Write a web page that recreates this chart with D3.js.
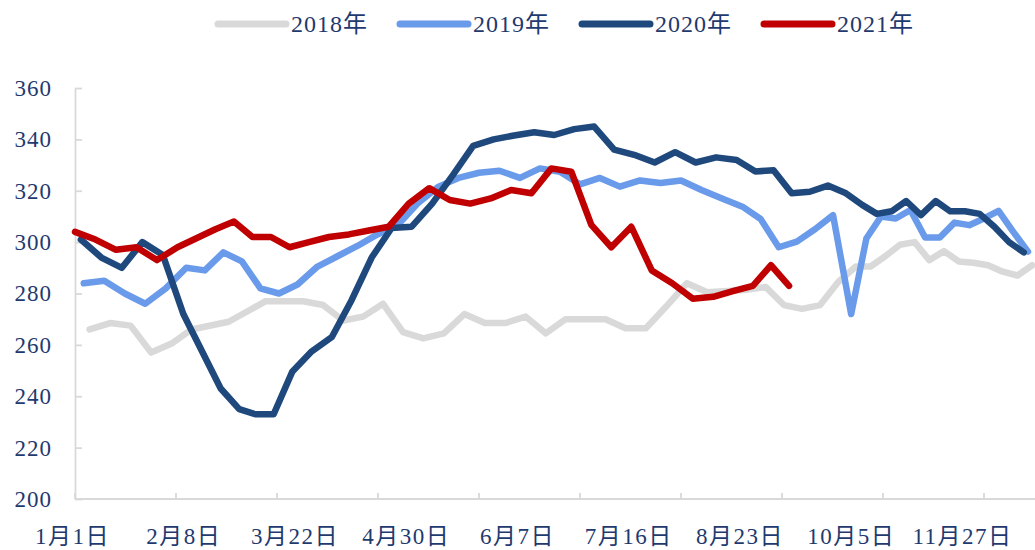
<!DOCTYPE html>
<html>
<head>
<meta charset="utf-8">
<script src="https://cdn.jsdelivr.net/npm/d3@7"></script>
<style>
body { margin: 0; background: #fff; }
svg text { font-family: "Liberation Serif", "Times New Roman", "Noto Sans CJK SC", serif; fill: #1f3a6e; }
</style>
</head>
<body>
<div id="chart"></div>
<script>
// weekly values, one array per year (null = no reading that week)
var years = ["2018年", "2019年", "2020年", "2021年"];
var startDates = ["2018-01-06", "2019-01-04", "2020-01-03", "2021-01-01"];

var v2018 = [266, 268.5, 267.5, 257, 260.5, 266, null, 269, 273, 277, 277, 277, 275.5, 269.5, 271, 276,
    265, 262.5, 264.5, 272, 268.5, 268.5, 271, 264.5, 270, 270, 270, 266.5, 266.5, 275, 284, 280.5,
    281, 281.5, 282.5, 275.5, 274, 275.5, 284.5, 290.5, 290.5, 294.5, 299, 300, 293, 296.5, 292.5,
    292, 291, 288.5, 287, 291];
var v2019 = [284, 285, 280, 276, 282, 290, 289, 296, 292.5, 282, 280, 283.5, 290.5, 294.5, 298.5, 303,
    306.5, 315, 321.5, 325, 327, 327.8, 325, 328.7, 327.4, 322.5, 325, 321.6, 324, 323, 324, 320.3,
    317, 313.8, 309, 298, 300.2, 305, 310.5, 272, 301.4, 310, 309.2, 312.5, 301.8, 301.8, 307.6,
    306.6, 309.2, 312.2, 304, 296.3];
var v2020 = [301, 294, 290, 300, 295, 272, null, 243, 235, 233, 233, 249.5, 257.5, 263, 277.5, 294,
    305.5, 306, 315, 326, 337.5, 340, 341.5, 342.8, 341.7, 344, 345, 336, 334, 331, 335, 331,
    333, 332, 327.5, 328, 319, 319.6, 322, 319, 314.5, 311, 312, 316, 310.5, 316, 312, 312,
    311, 306, 300, 296];
var v2021 = [304, 301, 297, 298, 293, 298, null, 305, 308, 302, 302, 298, 300, 302, 303, 304.5,
    306, 315, 321, 316.4, 315, 317, 320.3, 319, 328.7, 327.4, 306.7, 298, 306, 289, 284, 278,
    278.7, 281, 283, 291, 283];

var xLabels = ["1月1日", "2月8日", "3月22日", "4月30日", "6月7日", "7月16日", "8月23日", "10月5日", "11月27日"];
var labelDates = ["01-01", "02-08", "03-22", "04-30", "06-07", "07-16", "08-23", "10-05", "11-27"];
var yTicks = [200, 220, 240, 260, 280, 300, 320, 340, 360];

var colors = ["#d9d9d9", "#6a9aea", "#1f497d", "#c00000"];
var allValues = [v2018, v2019, v2020, v2021];

var width = 1035, height = 550;
var plotLeft = 75, plotRight = 1035, plotTop = 88, plotBottom = 499;

var svg = d3.select("#chart").append("svg")
    .attr("width", width)
    .attr("height", height);

var parse = d3.timeParse("%Y-%m-%d");
// every year is laid on the same calendar (2021) by month and day
function onBaseYear(d) {
    return new Date(2021, d.getMonth(), d.getDate());
}

var labelDateObjs = labelDates.map(function(s) { return parse("2021-" + s); });
var x = d3.scaleTime()
    .domain(labelDateObjs)
    .range(labelDateObjs.map(function(d, i) { return plotLeft + i * 111.25; }));

var y = d3.scaleLinear()
    .domain([200, 360])
    .range([plotBottom, plotTop]);

var tickPos = d3.scaleLinear().domain([0, 9]).range([plotLeft, 984]);

svg.append("defs").append("clipPath").attr("id", "plot")
    .append("rect").attr("x", plotLeft - 10).attr("y", 0)
    .attr("width", plotRight - plotLeft + 10).attr("height", height);

// y axis
var yAxis = svg.append("g")
    .attr("transform", "translate(" + plotLeft + ",0)")
    .call(d3.axisLeft(y).tickValues(yTicks).tickSizeInner(-7).tickSizeOuter(0).tickPadding(23));
yAxis.select(".domain").attr("stroke", "#d9d9d9").attr("stroke-width", 1.8);
yAxis.selectAll(".tick line").attr("stroke", "#d9d9d9").attr("stroke-width", 1.8);
yAxis.selectAll(".tick text")
    .attr("fill", null)
    .style("font-size", "23px")
    .style("letter-spacing", "1px");
yAxis.attr("font-family", null).attr("font-size", null);

// x axis
var xAxis = svg.append("g");
xAxis.append("line")
    .attr("x1", plotLeft).attr("x2", plotRight)
    .attr("y1", plotBottom).attr("y2", plotBottom)
    .attr("stroke", "#d9d9d9").attr("stroke-width", 1.8);
xAxis.selectAll(".xtick")
    .data(d3.range(10))
    .enter()
    .append("line")
    .attr("x1", function(d) { return tickPos(d); })
    .attr("x2", function(d) { return tickPos(d); })
    .attr("y1", plotBottom).attr("y2", plotBottom - 6)
    .attr("stroke", "#d9d9d9").attr("stroke-width", 1.8);
xAxis.selectAll(".xlabel")
    .data(xLabels)
    .enter()
    .append("text")
    .attr("x", function(d, i) { return x(labelDateObjs[i]) - 2.5; })
    .attr("y", 544)
    .attr("text-anchor", "middle")
    .style("font-size", "23px")
    .style("letter-spacing", "1.5px")
    .text(function(d) { return d; });

// series
var line = d3.line()
    .x(function(d) { return x(d.date); })
    .y(function(d) { return y(d.value); });

var series = allValues.map(function(vals, k) {
    var start = parse(startDates[k]);
    var pts = vals.map(function(v, i) {
        return { date: onBaseYear(d3.timeDay.offset(start, 7 * i)), value: v };
    }).filter(function(d) { return d.value !== null; });
    return { name: years[k], color: colors[k], points: pts };
});

svg.append("g")
    .attr("clip-path", "url(#plot)")
    .selectAll("path")
    .data(series)
    .enter()
    .append("path")
    .attr("fill", "none")
    .attr("stroke", function(d) { return d.color; })
    .attr("stroke-width", 6.5)
    .attr("stroke-linejoin", "round")
    .attr("stroke-linecap", "round")
    .attr("d", function(d) { return line(d.points); });

// legend
var legend = svg.append("g")
    .selectAll("g")
    .data(series)
    .enter()
    .append("g")
    .attr("transform", function(d, i) { return "translate(" + (218 + i * 182) + ",24)"; });
legend.append("line")
    .attr("x1", 0).attr("x2", 68)
    .attr("stroke", function(d) { return d.color; })
    .attr("stroke-width", 7)
    .attr("stroke-linecap", "round");
legend.append("text")
    .attr("x", 73)
    .attr("dy", "0.35em")
    .style("font-size", "24px")
    .style("letter-spacing", "1px")
    .text(function(d) { return d.name; });
</script>
</body>
</html>
